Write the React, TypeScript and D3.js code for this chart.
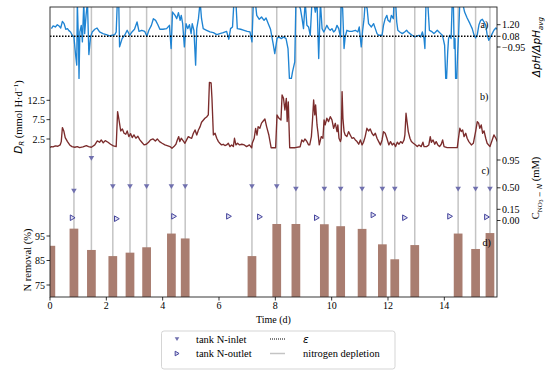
import React from "react";
import * as d3 from "d3";

// panel a) pH ratio, [time (d), ΔpH/ΔpHavg]
const phSeries: [number, number][] = [
  [0.05,0.82],[0.11,1.08],[0.19,0.98],[0.26,1.2],[0.32,1.08],[0.38,0.88],[0.44,1.52],[0.5,1.3],[0.56,0.76],[0.62,0.82],[0.67,0.63],[0.73,0.5],[0.79,0.18],[0.85,0.02],[0.91,-1.74],[0.95,-2.7],[0.97,3.4],[1.01,-0.46],[1.03,-3.98],[1.06,0.5],[1.11,1.14],[1.15,-0.46],[1.2,3.4],[1.23,0.34],[1.28,2.1],[1.33,3.4],[1.38,-1.68],[1.44,0.02],[1.5,0.5],[1.59,0.76],[1.67,0.88],[1.76,0.5],[1.88,0.34],[2.0,0.24],[2.12,0.12],[2.21,0.18],[2.3,0.24],[2.35,0.5],[2.39,3.4],[2.44,3.4],[2.47,-0.94],[2.56,-0.14],[2.65,0.18],[2.74,0.66],[2.83,0.18],[2.91,0.5],[3.0,0.76],[3.09,1.46],[3.16,0.56],[3.26,0.66],[3.36,0.56],[3.44,0.08],[3.51,0.66],[3.6,1.14],[3.67,1.78],[3.75,1.62],[3.83,1.2],[3.9,0.76],[4.01,0.76],
  [4.14,0.82],[4.24,1.14],[4.3,-1.1],[4.35,2.42],[4.44,2.1],[4.5,1.78],[4.56,2.36],[4.62,1.62],[4.66,2.1],[4.71,1.3],[4.77,-0.94],[4.83,1.3],[4.89,0.82],[4.95,1.2],[5.01,0.34],[5.05,1.3],[5.11,0.66],[5.17,-2.7],[5.21,0.82],[5.27,1.78],[5.33,3.4],[5.38,1.78],[5.44,0.82],[5.56,0.66],[5.68,0.5],[5.8,0.44],[5.92,0.24],[6.03,0.34],[6.15,0.44],[6.27,0.56],[6.35,-0.2],[6.41,0.82],[6.48,0.98],[6.53,3.4],[6.6,3.4],[6.65,0.82],[6.77,0.76],[6.89,0.66],[7.0,0.56],[7.1,0.5],[7.17,-0.46],[7.22,3.4],[7.29,3.4],[7.34,2.1],[7.43,1.72],[7.51,1.94],[7.6,1.62],[7.67,1.84],[7.75,1.3],[7.83,0.76],[7.92,-0.6],[7.98,-1.58],
  [8.06,-0.14],[8.12,0.02],[8.21,-0.14],[8.3,0.02],[8.38,-0.14],[8.45,-1.1],[8.5,-3.98],[8.57,-3.98],[8.61,-3.34],[8.69,-2.38],[8.73,3.4],[8.8,3.4],[8.89,2.74],[8.95,1.78],[9.0,0.82],[9.06,3.4],[9.12,1.14],[9.18,0.98],[9.24,0.18],[9.3,3.4],[9.36,3.4],[9.42,2.42],[9.48,3.4],[9.54,-2.06],[9.6,3.4],[9.66,0.82],[9.72,0.5],[9.77,0.76],[9.83,1.14],[9.89,0.82],[9.95,0.66],[10.01,0.82],[10.07,0.5],[10.13,0.66],[10.19,1.14],[10.25,0.82],[10.31,0.02],[10.34,3.4],[10.39,2.74],[10.44,-1.1],[10.48,0.02],[10.54,0.66],[10.63,0.56],[10.72,0.56],[10.84,0.66],[10.93,0.5],[10.98,0.98],[11.05,-0.94],[11.1,0.66],[11.15,1.78],[11.19,3.4],[11.26,2.74],[11.31,1.3],[11.41,0.98],[11.49,1.3],[11.55,0.82],[11.61,0.34],[11.67,0.18],[11.73,0.18],[11.79,0.18],[11.84,1.14],[11.9,1.78],[11.96,2.1],
  [12.0,1.62],[12.07,1.46],[12.12,2.1],[12.19,1.78],[12.21,3.4],[12.27,3.4],[12.31,1.46],[12.35,0.66],[12.42,0.5],[12.51,0.34],[12.59,0.5],[12.66,0.66],[12.71,0.5],[12.78,0.34],[12.86,0.18],[12.95,0.02],[13.04,0.12],[13.1,0.18],[13.16,0.02],[13.22,0.5],[13.28,-0.14],[13.31,-1.1],[13.35,3.4],[13.41,3.4],[13.47,0.66],[13.54,0.56],[13.63,0.34],[13.69,0.5],[13.75,0.66],[13.81,0.5],[13.87,0.34],[13.93,0.18],[13.96,-0.14],[14.01,-0.78],[14.05,-3.98],[14.08,-3.98],[14.12,-1.42],[14.15,-0.14],[14.19,0.18],[14.24,-0.14],[14.28,3.4],[14.32,3.4],[14.35,-1.1],[14.38,-0.14],[14.4,-3.98],[14.44,-3.98],[14.47,-1.74],[14.51,0.5],[14.55,3.4],[14.64,3.4],[14.72,2.42],[14.81,1.84],[14.91,1.3],[14.99,0.82],[15.05,0.24],[15.11,-0.08],[15.17,0.24],[15.23,1.2],[15.29,1.62],[15.35,1.72],[15.41,1.46],[15.47,1.14],[15.52,0.24],[15.58,-0.3],[15.64,0.02],[15.7,0.34],[15.76,0.66],[15.83,0.88],[15.88,0.76],
];
const epsilon = 0.08;
const phTicks = [1.2, 0.08, -0.95];

// panel b) D_R (mmol H/d)
const drSeries: [number, number][] = [
  [0.0,0.3],[0.05,0.54],[0.11,0.45],[0.19,0.71],[0.28,0.62],[0.36,0.97],[0.4,1.83],[0.44,5.45],[0.49,4.58],[0.54,2.86],[0.62,1.83],[0.7,0.97],[0.78,0.54],[0.88,0.37],[0.97,0.54],[1.05,0.28],[1.17,0.45],[1.29,0.8],[1.37,0.54],[1.47,0.37],[1.59,0.97],[1.68,2.0],[1.76,1.66],[1.82,2.26],[1.89,1.49],[1.96,2.09],[2.06,1.66],[2.15,1.14],[2.25,0.71],[2.35,0.54],[2.4,9.58],[2.45,7.43],[2.51,4.58],[2.57,5.1],[2.63,3.98],[2.69,3.72],[2.74,4.58],[2.8,3.12],[2.86,3.89],[2.92,2.86],[2.98,3.55],[3.05,2.69],[3.12,3.21],[3.19,2.26],[3.26,1.66],[3.34,0.97],[3.42,1.14],[3.5,1.66],[3.57,2.26],[3.66,2.52],[3.74,2.0],[3.81,2.52],[3.89,1.83],[3.98,1.4],
  [4.08,0.97],[4.16,0.8],[4.26,0.54],[4.33,0.11],[4.4,0.54],[4.47,1.14],[4.52,2.26],[4.57,3.12],[4.61,1.83],[4.66,2.69],[4.73,2.0],[4.79,1.4],[4.85,2.26],[4.91,3.12],[4.97,2.86],[5.03,2.69],[5.09,3.98],[5.15,4.84],[5.21,3.55],[5.27,4.84],[5.33,5.7],[5.38,6.82],[5.44,7.34],[5.5,7.86],[5.56,8.2],[5.62,8.72],[5.66,17.15],[5.72,16.98],[5.75,13.02],[5.8,3.55],[5.86,3.98],[5.92,2.69],[5.98,1.83],[6.03,1.4],[6.09,0.97],[6.15,1.14],[6.21,0.8],[6.27,0.97],[6.33,1.4],[6.39,0.54],[6.45,0.97],[6.51,0.54],[6.55,2.69],[6.6,0.97],[6.66,1.4],[6.73,0.97],[6.81,1.14],[6.9,0.97],[6.98,0.54],[7.08,0.97],[7.16,0.2],[7.18,1.39],[7.25,2.7],[7.3,5.26],[7.35,3.53],[7.39,5.7],[7.45,5.26],[7.51,6.6],[7.57,7.15],[7.63,7.67],[7.69,5.7],[7.77,3.53],[7.85,0.25],[8.01,0.25],
  [8.06,8.7],[8.13,7.85],[8.2,7.4],[8.24,13.9],[8.29,13.0],[8.34,10.0],[8.39,13.0],[8.42,7.0],[8.46,12.1],[8.51,0.25],[8.7,0.25],[8.88,0.5],[8.94,2.24],[9.0,1.8],[9.05,2.5],[9.11,2.0],[9.18,0.97],[9.22,0.97],[9.28,3.12],[9.32,7.43],[9.36,12.59],[9.4,8.72],[9.43,11.3],[9.48,6.13],[9.51,4.41],[9.56,0.97],[9.63,3.12],[9.69,2.69],[9.73,7.43],[9.77,6.13],[9.83,7.86],[9.89,7.0],[9.95,8.29],[10.01,7.43],[10.07,5.27],[10.13,6.56],[10.19,4.41],[10.22,6.13],[10.26,2.69],[10.31,1.83],[10.34,2.69],[10.37,14.74],[10.4,7.86],[10.44,4.41],[10.48,3.55],[10.54,3.12],[10.6,4.41],[10.66,3.55],[10.72,2.69],[10.78,2.86],[10.84,2.26],[10.9,1.83],[10.96,1.14],[11.02,2.26],[11.08,0.97],[11.13,1.66],[11.19,3.12],[11.25,5.27],[11.31,4.58],[11.37,5.1],[11.43,3.98],[11.49,3.38],[11.55,3.98],[11.61,2.69],[11.67,1.83],[11.73,0.97],[11.79,2.26],[11.84,4.41],[11.9,3.98],[11.96,2.69],
  [12.03,0.97],[12.09,1.83],[12.15,0.97],[12.21,1.4],[12.27,0.54],[12.33,1.66],[12.39,1.14],[12.45,1.83],[12.51,1.4],[12.57,2.26],[12.6,3.55],[12.64,9.15],[12.69,6.13],[12.72,4.41],[12.78,2.69],[12.83,1.83],[12.9,1.4],[12.98,0.97],[13.04,0.54],[13.1,0.97],[13.18,0.54],[13.24,1.66],[13.28,0.54],[13.37,0.54],[13.45,0.97],[13.5,3.12],[13.54,1.66],[13.6,2.26],[13.66,1.14],[13.71,1.83],[13.77,0.97],[13.83,0.54],[13.89,1.14],[13.94,2.26],[13.99,0.54],[14.1,0.28],[14.46,0.28],[14.51,3.12],[14.55,5.27],[14.6,4.41],[14.65,4.84],[14.7,3.12],[14.76,3.98],[14.81,2.69],[14.87,1.83],[14.96,0.97],[15.03,1.4],[15.11,4.41],[15.17,7.0],[15.22,6.56],[15.26,5.27],[15.31,6.13],[15.36,3.98],[15.41,4.58],[15.47,2.69],[15.52,1.4],[15.62,0.54],[15.7,2.26],[15.76,3.55],[15.83,2.69],[15.88,1.83],
];
const drTicks = [12.5, 7.5, 2.5];

// panel c) nitrate (mM)
const depletionTimes = [0.85, 1.47, 2.23, 2.84, 3.43, 4.31, 4.8, 7.17, 8.05, 8.73, 9.74, 10.32, 11.08, 11.8, 12.24, 12.95, 14.49, 15.11, 15.62];
const inletTimes = [0.85, 1.47, 2.23, 2.84, 3.43, 4.31, 4.8, 7.17, 8.05, 8.73, 9.74, 10.32, 11.08, 11.8, 12.24, 14.49, 15.11, 15.62];
const inletValues = [0.45, 0.98, 0.52, 0.52, 0.52, 0.52, 0.52, 0.52, 0.52, 0.48, 0.48, 0.48, 0.48, 0.48, 0.48, 0.48, 0.48, 0.48];
const outletTimes = [0.8, 2.37, 4.4, 6.35, 7.45, 9.47, 11.48, 12.6, 14.2, 15.51];
const outletValues = [0.037, 0.024, 0.056, 0.056, 0.05, 0.037, 0.074, 0.037, 0.056, 0.047];
const no3Ticks = [0.95, 0.5, 0.15, 0.0];

// panel d) N removal (%)
const removalTimes = [0.03, 0.85, 1.47, 2.23, 2.84, 3.43, 4.31, 4.8, 7.17, 8.05, 8.73, 9.74, 10.32, 11.08, 11.8, 12.24, 12.95, 14.49, 15.11, 15.62];
const removalValues = [91, 98, 89.3, 86.8, 88.2, 90.4, 96, 94, 86.8, 99.9, 99.9, 99.8, 99, 97.9, 91.6, 85.5, 91.3, 96, 89.7, 96.2];
const removalTicks = [95, 85, 75];

const timeTicks = [0, 2, 4, 6, 8, 10, 12, 14];

const W = 550, H = 373;
const L = 50, R = 497, T = 7, B = 297;
const serif = "'Liberation Serif', 'Times New Roman', serif";
const mathFont = "'DejaVu Sans', sans-serif";
const tickFs = 10;
const labelFs = 10.5;

export default function App() {
  const x = d3.scaleLinear().domain([0, 15.87]).range([L, R]);
  const yA = d3.scaleLinear().domain([-0.95, 1.2]).range([47, 24.7]);
  const yB = d3.scaleLinear().domain([2.5, 12.5]).range([139, 100.3]);
  const yC = d3.scaleLinear().domain([0, 0.15, 0.5, 0.95]).range([220.5, 209.3, 187.8, 160]);
  const yD = d3.scaleLinear().domain([75, 95]).range([285, 236]);

  const phLine = d3.line<[number, number]>().x(d => x(d[0])).y(d => yA(d[1]));
  const drLine = d3.line<[number, number]>().x(d => x(d[0])).y(d => yB(d[1]));
  const barW = x(0.31) - x(0);

  const tri = (cx: number, cy: number, s: number) =>
    `M${cx - s},${cy - s * 0.8}L${cx + s},${cy - s * 0.8}L${cx},${cy + s * 0.9}Z`;
  const triR = (cx: number, cy: number, s: number) =>
    `M${cx - s * 0.8},${cy - s}L${cx + s * 0.9},${cy}L${cx - s * 0.8},${cy + s}Z`;

  return (
    <svg width={W} height={H} style={{ position: "absolute", left: 0, top: 0, background: "#fff" }}
      fontFamily={serif}>
      <defs>
        <clipPath id="plot">
          <rect x={L} y={T} width={R - L} height={B - T} />
        </clipPath>
      </defs>

      <g clipPath="url(#plot)">
        {depletionTimes.map((t, i) => (
          <line key={"dl" + i} x1={x(t)} x2={x(t)} y1={T} y2={B} stroke="#c4c4c4" strokeWidth={1.5} />
        ))}
        {removalTimes.map((t, i) => (
          <rect key={"bar" + i} x={x(t) - barW / 2} y={yD(removalValues[i])} width={barW}
            height={B - yD(removalValues[i])} fill="#a97d70" />
        ))}
        <path d={phLine(phSeries) || ""} fill="none" stroke="#1f84d3" strokeWidth={1.35} strokeLinejoin="round" />
        <line x1={L} x2={R} y1={yA(epsilon)} y2={yA(epsilon)} stroke="#000" strokeWidth={1.5} strokeDasharray="1.5,1.5" />
        <path d={drLine(drSeries) || ""} fill="none" stroke="#7b2c2c" strokeWidth={1.35} strokeLinejoin="round" />
        {inletTimes.map((t, i) => (
          <path key={"in" + i} d={tri(x(t), yC(inletValues[i]), 2.8)} fill="#7070ae" />
        ))}
        {outletTimes.map((t, i) => (
          <path key={"out" + i} d={triR(x(t), yC(outletValues[i]), 2.8)} fill="#e0e0f2" stroke="#45459c" strokeWidth={1} />
        ))}
      </g>

      {/* frame */}
      <rect x={L} y={T} width={R - L} height={B - T} fill="none" stroke="#222" strokeWidth={0.9} />

      {/* bottom axis */}
      {timeTicks.map(t => (
        <g key={"xt" + t}>
          <line x1={x(t)} x2={x(t)} y1={B} y2={B + 3.5} stroke="#000" strokeWidth={0.8} />
          <text x={x(t)} y={308.5} fontSize={tickFs} textAnchor="middle">{t}</text>
        </g>
      ))}
      <text x={(L + R) / 2} y={322.5} fontSize={10} textAnchor="middle">Time (d)</text>

      {/* left axes */}
      {drTicks.map(v => (
        <g key={"lb" + v}>
          <line x1={L - 3.5} x2={L} y1={yB(v)} y2={yB(v)} stroke="#000" strokeWidth={0.8} />
          <text x={L - 5} y={yB(v) + 3.5} fontSize={tickFs} textAnchor="end">{v.toFixed(1)}</text>
        </g>
      ))}
      {removalTicks.map(v => (
        <g key={"ld" + v}>
          <line x1={L - 3.5} x2={L} y1={yD(v)} y2={yD(v)} stroke="#000" strokeWidth={0.8} />
          <text x={L - 5} y={yD(v) + 3.5} fontSize={tickFs} textAnchor="end">{v}</text>
        </g>
      ))}
      <text transform="translate(21.5,117) rotate(-90)" fontSize={labelFs} textAnchor="middle">
        <tspan fontStyle="italic" fontFamily={mathFont} fontSize={10.5}>D</tspan>
        <tspan fontStyle="italic" fontFamily={mathFont} fontSize={7} dy={2.5}>R</tspan>
        <tspan dy={-2.5}> (mmol H·d</tspan>
        <tspan fontSize={7} dy={-4}>−1</tspan>
        <tspan dy={4}>)</tspan>
      </text>
      <text transform="translate(31,260) rotate(-90)" fontSize={labelFs} textAnchor="middle">N removal (%)</text>

      {/* right axes */}
      {phTicks.map(v => (
        <g key={"ra" + v}>
          <line x1={R} x2={R + 3.5} y1={yA(v)} y2={yA(v)} stroke="#000" strokeWidth={0.8} />
          <text x={R + 5} y={yA(v) + 3.5} fontSize={tickFs}>{v < 0 ? "−" + Math.abs(v).toFixed(2) : v.toFixed(2)}</text>
        </g>
      ))}
      {no3Ticks.map(v => (
        <g key={"rc" + v}>
          <line x1={R} x2={R + 3.5} y1={yC(v)} y2={yC(v)} stroke="#000" strokeWidth={0.8} />
          <text x={R + 5} y={yC(v) + 3.5} fontSize={tickFs}>{v.toFixed(2)}</text>
        </g>
      ))}
      <text transform="translate(540,47) rotate(-90)" fontSize={10.5} textAnchor="middle" fontFamily={mathFont} fontStyle="italic">
        <tspan>ΔpH/ΔpH</tspan>
        <tspan fontSize={7} dy={2.5}>avg</tspan>
      </text>
      <text transform="translate(539,188) rotate(-90)" fontSize={10.5} textAnchor="middle">
        <tspan>C</tspan>
        <tspan fontSize={7} dy={2.5}>NO</tspan>
        <tspan fontSize={5.5} dy={1.5}>3</tspan>
        <tspan fontSize={7} dy={-1.5} fontStyle="italic" fontFamily={mathFont}> − N</tspan>
        <tspan dy={-2.5}> (mM)</tspan>
      </text>

      {/* panel labels */}
      <text x={480.5} y={27.5} fontSize={10}>a)</text>
      <text x={480} y={100} fontSize={10}>b)</text>
      <text x={481.5} y={174} fontSize={10}>c)</text>
      <text x={482.5} y={246} fontSize={10}>d)</text>

      {/* legend */}
      <rect x={161.5} y={331} width={233.5} height={38} rx={2.5} fill="#fff" stroke="#d0d0d0" strokeWidth={0.9} />
      <path d={tri(177, 339, 2.3)} fill="#7070ae" />
      <text x={196} y={342.5} fontSize={10.5}>tank N-inlet</text>
      <path d={triR(177, 353.5, 2.3)} fill="#e0e0f2" stroke="#45459c" strokeWidth={1} />
      <text x={196} y={357} fontSize={10.5}>tank N-outlet</text>
      <line x1={270} x2={285} y1={339} y2={339} stroke="#000" strokeWidth={1.2} strokeDasharray="1,1" />
      <text x={303} y={342.5} fontSize={10.5} fontStyle="italic" fontFamily={mathFont}>ε</text>
      <line x1={270} x2={285} y1={353.5} y2={353.5} stroke="#c4c4c4" strokeWidth={1.5} />
      <text x={303} y={357} fontSize={10.5}>nitrogen depletion</text>
    </svg>
  );
}
